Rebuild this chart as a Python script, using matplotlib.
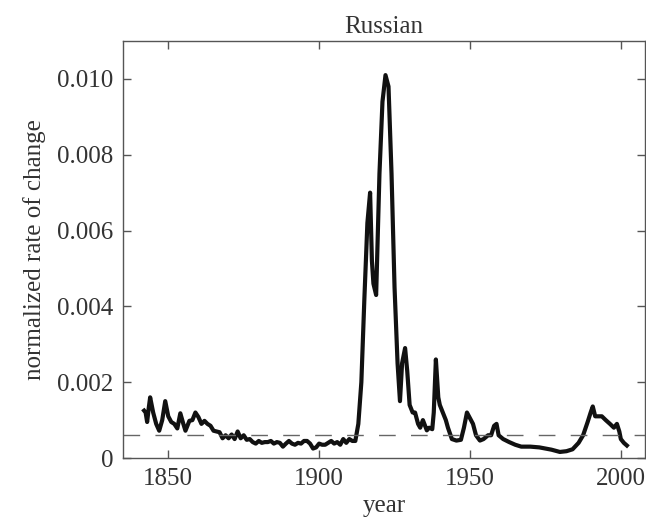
import matplotlib
matplotlib.use("Agg")
import matplotlib.pyplot as plt

plt.rcParams['font.family'] = ['Liberation Serif', 'DejaVu Serif']

# values
years = [1842, 1842.5, 1843, 1843.5, 1844, 1845, 1846, 1847, 1848, 1849,
         1850, 1851, 1852, 1853, 1854, 1855, 1855.7, 1857, 1858, 1859,
         1860, 1861, 1862, 1863, 1864, 1865, 1866, 1867, 1868, 1869,
         1870, 1871, 1872, 1873, 1874, 1875, 1876, 1877, 1878, 1879,
         1880, 1881, 1882, 1883, 1884, 1885, 1886, 1887, 1888, 1889,
         1890, 1891, 1892, 1893, 1894, 1895, 1896, 1897, 1898, 1899,
         1900, 1901, 1902, 1903, 1904, 1905, 1906, 1907, 1908, 1909,
         1910, 1911, 1912, 1913, 1914, 1915, 1916, 1916.9, 1917.5, 1918,
         1918.9, 1920, 1921, 1922, 1923, 1924, 1925, 1926, 1926.8, 1927.5,
         1928.5, 1929.2, 1930, 1931, 1931.8, 1932.8, 1933.5, 1934.4, 1935.7, 1936.5,
         1937.5, 1938, 1938.7, 1939.5, 1940, 1941, 1942, 1942.7, 1944, 1945.5,
         1947, 1948, 1949, 1950, 1951, 1952, 1953.3, 1954.5, 1956, 1957,
         1958, 1958.8, 1959.5, 1961, 1963, 1965, 1967, 1970, 1973, 1975,
         1977, 1979.8, 1982, 1984, 1986, 1987.5, 1989, 1990, 1990.7, 1991.5,
         1992.5, 1993.7, 1995, 1996.4, 1997.7, 1998.7, 1999.5, 2000, 2001, 2002]
rate = [0.00125, 0.0012, 0.00095, 0.0013, 0.0016, 0.0012, 0.0009, 0.00072, 0.001, 0.0015,
        0.0011, 0.00095, 0.0009, 0.00078, 0.00118, 0.0009, 0.00072, 0.00098, 0.001, 0.0012,
        0.00108, 0.0009, 0.00098, 0.0009, 0.00085, 0.00072, 0.0007, 0.00068, 0.00052, 0.0006,
        0.00052, 0.00062, 0.0005, 0.0007, 0.00052, 0.0006, 0.00048, 0.0005, 0.00042, 0.00038,
        0.00045, 0.0004, 0.00042, 0.00042, 0.00045, 0.00038, 0.00042, 0.0004, 0.0003, 0.00038,
        0.00045, 0.00038, 0.00035, 0.0004, 0.00038, 0.00045, 0.00045, 0.00038, 0.00025, 0.00028,
        0.00038, 0.00035, 0.00035, 0.0004, 0.00045, 0.00038, 0.00042, 0.00035, 0.0005, 0.0004,
        0.0005, 0.00045, 0.00045, 0.0009, 0.002, 0.0042, 0.0062, 0.0070, 0.0052, 0.0046,
        0.0043, 0.0075, 0.0094, 0.0101, 0.0098, 0.0075, 0.0045, 0.0025, 0.0015, 0.0025,
        0.0029, 0.0023, 0.0014, 0.0012, 0.0012, 0.0009, 0.0008, 0.001, 0.00073, 0.0008,
        0.00076, 0.0012, 0.0026, 0.0016, 0.0014, 0.0012, 0.001, 0.0008, 0.0005, 0.00046,
        0.00048, 0.0008, 0.0012, 0.00105, 0.0009, 0.0006, 0.00046, 0.0005, 0.0006, 0.0006,
        0.00085, 0.0009, 0.0006, 0.0005, 0.00042, 0.00035, 0.0003, 0.0003, 0.00028, 0.00025,
        0.00022, 0.00016, 0.00018, 0.00023, 0.0004, 0.0006, 0.00095, 0.0012, 0.00136, 0.0011,
        0.0011, 0.0011, 0.001, 0.0009, 0.0008, 0.0009, 0.0007, 0.0005, 0.0004, 0.00033]
threshold = 0.0006

x_ticks = [1850, 1900, 1950, 2000]
y_ticks = [0, 0.002, 0.004, 0.006, 0.008, 0.010]
y_labels = ['0', '0.002', '0.004', '0.006', '0.008', '0.010']

fig = plt.figure(figsize=(6.46, 5.21), dpi=100)
ax = fig.add_axes([0.1904, 0.1209, 0.808, 0.8004])

ax.plot(years, rate, color='#111111', lw=3.0, solid_joinstyle='round')
ax.axhline(threshold, color='#666666', lw=1.0, dashes=(12, 11))

ax.set_xlim(1835, 2008)
ax.set_ylim(0, 0.011)
ax.set_xticks(x_ticks)
ax.set_yticks(y_ticks)
ax.set_yticklabels(y_labels)
ax.tick_params(direction='in', length=6, width=1, top=True, right=True,
               labelsize=18, colors='#555555', labelcolor='#333333', pad=7)
for s in ax.spines.values():
    s.set_color('#555555')
    s.set_linewidth(1.0)

ax.set_title('Russian', fontsize=18, color='#333333', pad=6)
ax.set_xlabel('year', fontsize=18, color='#333333', labelpad=4)
ax.set_ylabel('normalized rate of change', fontsize=18, color='#333333', labelpad=8)

fig.savefig('out.png', dpi=100)
